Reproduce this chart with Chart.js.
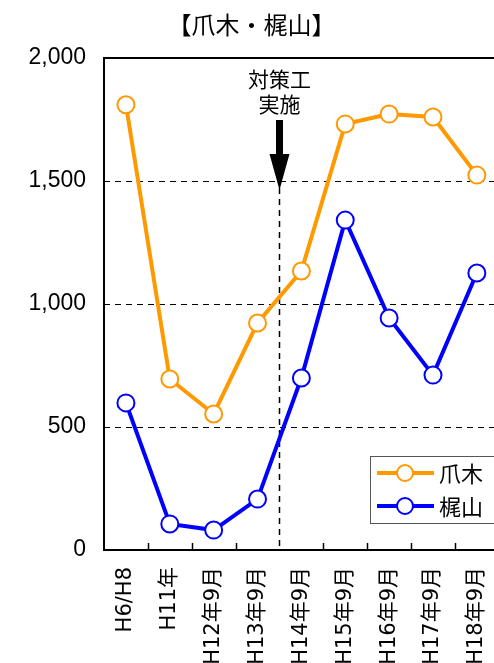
<!DOCTYPE html>
<html>
<head>
<meta charset="utf-8">
<script src="https://cdn.jsdelivr.net/npm/chart.js@4.4.1/dist/chart.umd.min.js"></script>
<style>
html, body { margin: 0; padding: 0; background: #fff; overflow: hidden; }
#wrap { width: 494px; height: 663px; overflow: hidden; }
</style>
</head>
<body>
<div id="wrap"><canvas id="myChart" width="520" height="663"></canvas></div>
<script>
// survey periods and counts for the two sites
const categories = ['H6/H8', 'H11年', 'H12年9月', 'H13年9月', 'H14年9月', 'H15年9月', 'H16年9月', 'H17年9月', 'H18年9月'];
const tsumekiValues = [1810, 695, 553, 923, 1134, 1732, 1772, 1760, 1524];
const kajiyamaValues = [598, 106, 81, 207, 699, 1341, 943, 711, 1126];
const seriesNames = ['爪木', '梶山'];
const seriesColors = ['#ff9900', '#0000ff'];
const yTicks = [0, 500, 1000, 1500, 2000];
const chartTitle = '【爪木・梶山】';
const noteLines = ['対策工', '実施'];
const noteAfter = 3; // countermeasure done between H13 and H14

const jpFont = "'Noto Sans CJK JP', 'Liberation Sans', sans-serif";
const labelFont = "'DejaVu Sans', 'Noto Sans CJK JP', sans-serif";
const numFont = "'Liberation Sans Narrow', 'Liberation Sans', sans-serif";

const decorations = {
    id: 'decorations',
    beforeDatasetsDraw(chart) {
        const { ctx, chartArea: a, scales: { x } } = chart;
        ctx.save();
        ctx.strokeStyle = '#000';

        // small tick marks between categories, pointing into the plot
        ctx.lineWidth = 1.5;
        for (let i = 0; i < categories.length - 1; i++) {
            if (i === noteAfter) continue;
            const px = Math.round((x.getPixelForValue(i) + x.getPixelForValue(i + 1)) / 2) + 0.5;
            ctx.beginPath();
            ctx.moveTo(px, a.bottom);
            ctx.lineTo(px, a.bottom - 7);
            ctx.stroke();
        }

        // countermeasure marker: dashed line, arrow and label
        const nx = Math.round((x.getPixelForValue(noteAfter) + x.getPixelForValue(noteAfter + 1)) / 2) + 0.5;
        ctx.setLineDash([6, 5]);
        ctx.lineWidth = 1.5;
        ctx.beginPath();
        ctx.moveTo(nx, a.top + 130);
        ctx.lineTo(nx, a.bottom);
        ctx.stroke();
        ctx.setLineDash([]);

        ctx.fillStyle = '#000';
        ctx.fillRect(nx - 3.5, a.top + 62, 7, 36);
        ctx.beginPath();
        ctx.moveTo(nx - 10, a.top + 96);
        ctx.lineTo(nx + 10, a.top + 96);
        ctx.lineTo(nx, a.top + 132);
        ctx.closePath();
        ctx.fill();

        ctx.font = '21px ' + jpFont;
        ctx.textAlign = 'center';
        ctx.textBaseline = 'middle';
        ctx.fillText(noteLines[0], nx, a.top + 21);
        ctx.fillText(noteLines[1], nx, a.top + 46);

        // plot frame
        ctx.lineWidth = 2;
        ctx.strokeRect(a.left, a.top, a.right - a.left, a.bottom - a.top);
        ctx.restore();
    },
    afterDraw(chart) {
        const { ctx, chartArea: a } = chart;
        const bx = a.left + 266, by = a.bottom - 94;
        ctx.save();
        ctx.fillStyle = '#fff';
        ctx.strokeStyle = '#555';
        ctx.lineWidth = 1;
        ctx.fillRect(bx, by, 160, 67);
        ctx.strokeRect(bx + 0.5, by + 0.5, 160, 67);

        chart.data.datasets.forEach((ds, i) => {
            const ly = by + 17 + i * 33;
            ctx.strokeStyle = ds.borderColor;
            ctx.lineWidth = 4;
            ctx.beginPath();
            ctx.moveTo(bx + 7, ly);
            ctx.lineTo(bx + 64, ly);
            ctx.stroke();
            ctx.fillStyle = '#fff';
            ctx.lineWidth = 2;
            ctx.beginPath();
            ctx.arc(bx + 35, ly, 8, 0, Math.PI * 2);
            ctx.fill();
            ctx.stroke();
            ctx.fillStyle = '#000';
            ctx.font = '22px ' + jpFont;
            ctx.textAlign = 'left';
            ctx.textBaseline = 'middle';
            ctx.fillText(ds.label, bx + 69, ly + 1);
        });
        ctx.restore();
    }
};

function lineSet(label, values, color) {
    return {
        label: label,
        data: values,
        borderColor: color,
        backgroundColor: '#fff',
        borderWidth: 4,
        pointRadius: 8.5,
        pointBorderWidth: 2,
        pointBackgroundColor: '#fff',
        pointBorderColor: color,
        tension: 0,
        clip: false
    };
}

const chartCanvasElement = document.getElementById('myChart');
new Chart(chartCanvasElement, {
    type: 'line',
    data: {
        labels: categories,
        datasets: [
            lineSet(seriesNames[0], tsumekiValues, seriesColors[0]),
            lineSet(seriesNames[1], kajiyamaValues, seriesColors[1])
        ]
    },
    options: {
        responsive: false,
        animation: false,
        layout: { padding: { left: 0, right: 17, top: 0, bottom: 0 } },
        plugins: {
            legend: { display: false },
            tooltip: { enabled: false },
            title: {
                display: true,
                text: chartTitle,
                color: '#000',
                font: { family: jpFont, size: 24, weight: 'normal' },
                padding: { top: 10, bottom: 19.2 }
            }
        },
        scales: {
            x: {
                type: 'category',
                offset: true,
                grid: { display: false, drawTicks: false },
                border: { display: false },
                ticks: {
                    autoSkip: false,
                    minRotation: 90,
                    maxRotation: 90,
                    padding: 17,
                    color: '#000',
                    font: { family: labelFont, size: 21 }
                },
                afterFit: (scale) => { scale.height = 113; }
            },
            y: {
                min: 0,
                max: 2000,
                afterBuildTicks: (scale) => { scale.ticks = yTicks.map(v => ({ value: v })); },
                grid: {
                    drawTicks: false,
                    color: (c) => (c.tick && c.tick.value > 0 && c.tick.value < 2000) ? '#000' : 'rgba(0,0,0,0)',
                    lineWidth: 1
                },
                border: { display: false, dash: [6, 5] },
                ticks: {
                    padding: 18,
                    color: '#000',
                    font: { family: numFont, size: 23 },
                    callback: (v) => v.toLocaleString('en-US')
                },
                afterFit: (scale) => { scale.width = 104; }
            }
        }
    },
    plugins: [decorations]
});
</script>
</body>
</html>
